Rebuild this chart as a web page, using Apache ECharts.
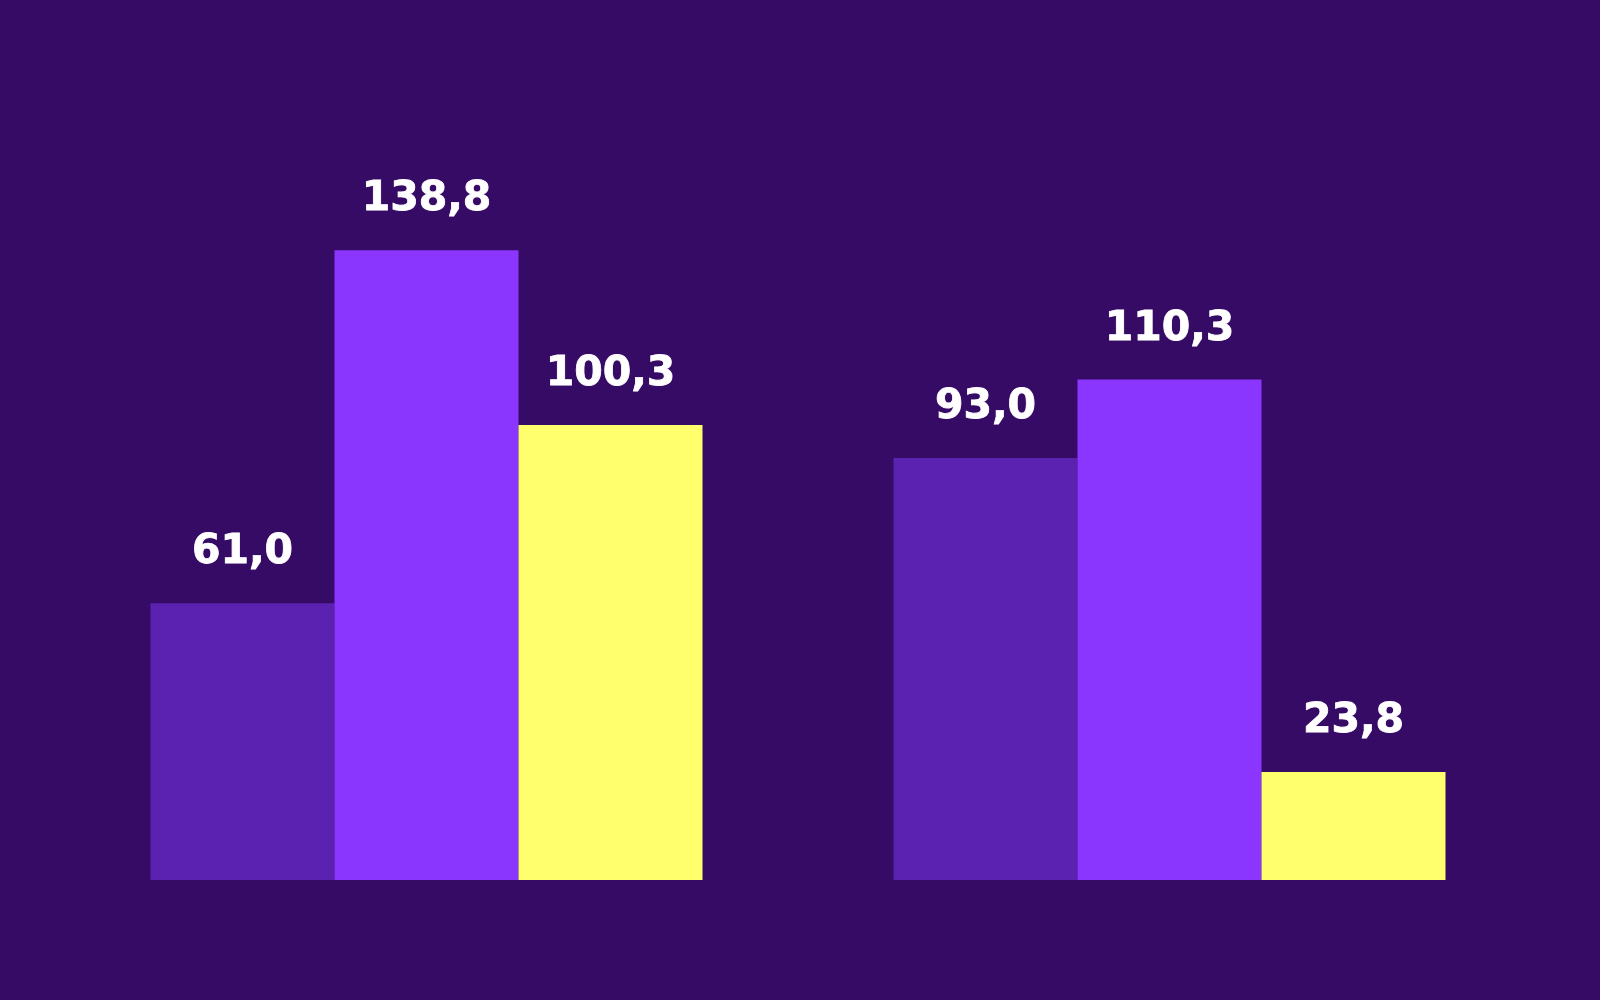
<!DOCTYPE html>
<html>
<head>
<meta charset="utf-8">
<script src="https://cdn.jsdelivr.net/npm/echarts@6/dist/echarts.min.js"></script>
<style>
html,body{margin:0;padding:0;background:#360b66;}
#chart{width:1600px;height:1000px;}
</style>
</head>
<body>
<div id="chart"></div>
<script>
const categories = ['Grupo 1', 'Grupo 2'];
const seriesA = [61.0, 93.0];
const seriesB = [138.8, 110.3];
const seriesC = [100.3, 23.8];
const colors = ['#5b22b1', '#8b36fe', '#ffff6e'];

const chart = echarts.init(document.getElementById('chart'));
const fmt = p => p.value.toFixed(1).replace('.', ',');
function mk(name, data, color) {
  return {
    name: name,
    type: 'bar',
    data: data,
    barWidth: 184,
    barGap: '0%',
    itemStyle: { color: color },
    label: {
      show: true,
      position: 'top',
      distance: 30,
      formatter: fmt,
      color: '#ffffff',
      fontFamily: 'DejaVu Sans',
      fontWeight: 'bold',
      fontSize: 41,
      textBorderColor: '#ffffff',
      textBorderWidth: 0.8
    }
  };
}
chart.setOption({
  backgroundColor: '#360b66',
  animation: false,
  grid: { left: 55, right: 59, top: 154, bottom: 120 },
  xAxis: {
    type: 'category',
    data: categories,
    axisLine: { show: false },
    axisTick: { show: false },
    axisLabel: { show: false }
  },
  yAxis: {
    type: 'value',
    min: 0,
    max: 160,
    show: false,
    splitLine: { show: false }
  },
  series: [
    mk('A', seriesA, colors[0]),
    mk('B', seriesB, colors[1]),
    mk('C', seriesC, colors[2])
  ]
});
</script>
</body>
</html>
